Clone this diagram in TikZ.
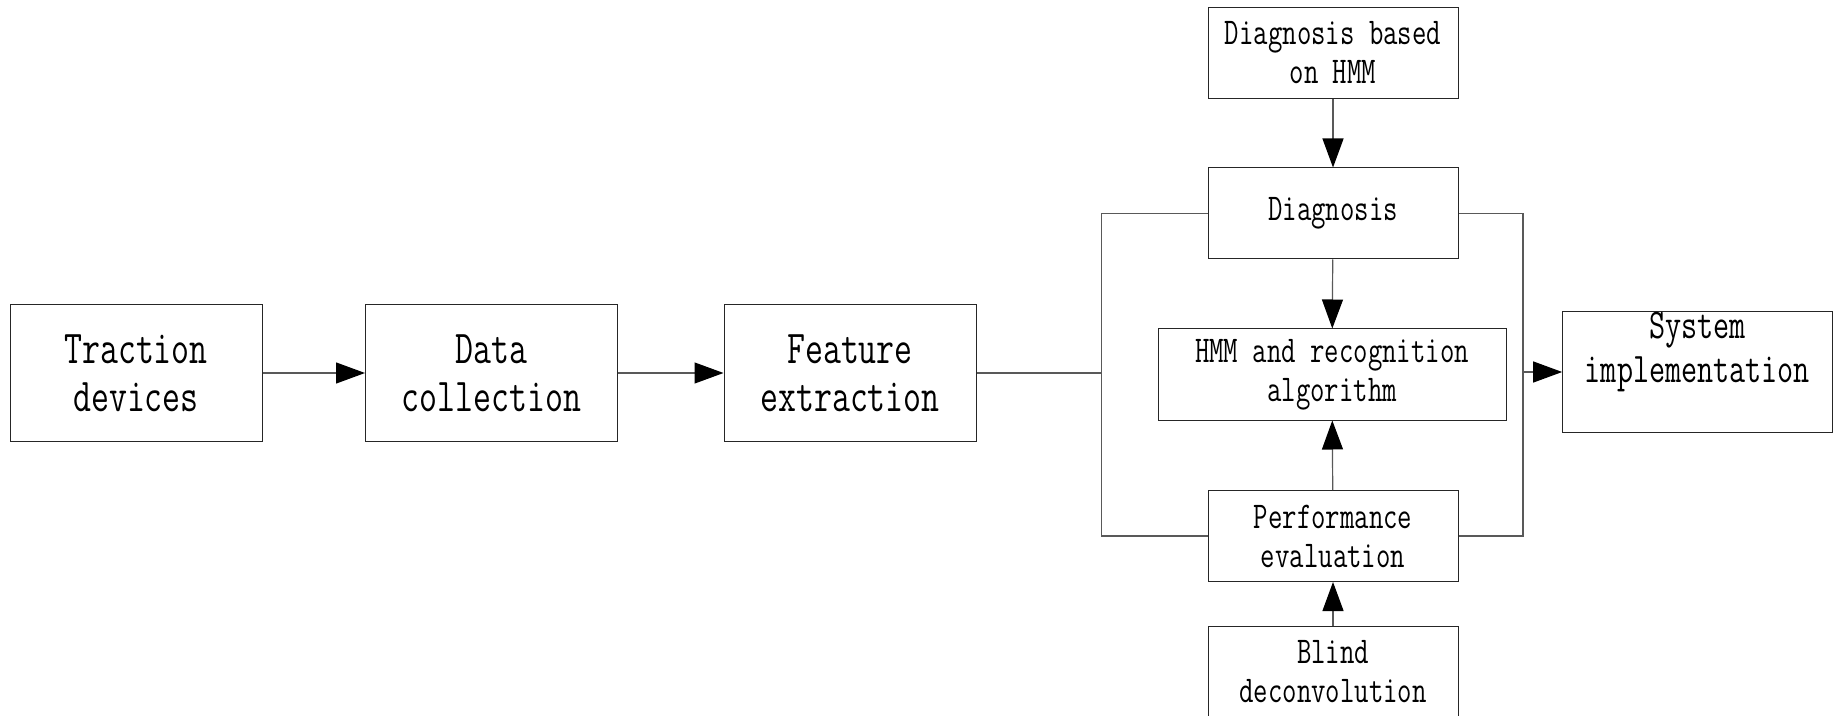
\documentclass[tikz,border=0pt]{standalone}
\usepackage{fontspec}
\newfontfamily\boxfont[FakeStretch=0.74]{Latin Modern Mono}
\usetikzlibrary{arrows.meta}
\definecolor{linegray}{gray}{0.35}

\begin{document}
\begin{tikzpicture}[x=0.5pt,y=-0.5pt,
  blk/.style={draw=black!85, line width=0.5pt, inner sep=0pt, align=center,
    minimum width=125pt, minimum height=45.5pt,
    font=\boxfont\fontsize{18.9}{19.5}\selectfont},
  big/.style={blk, minimum width=126pt, minimum height=68pt,
    font=\boxfont\fontsize{23.55}{24}\selectfont},
  conn/.style={draw=linegray, line width=0.6pt},
  arr/.style={conn, -{Triangle[length=14.5pt,width=10.5pt,color=black]}}]
  \useasboundingbox (0,0) rectangle (1840,716);
  % main chain
  \node[big] (trac) at (136,373) {Traction\\devices};
  \node[big] (coll) at (491.5,373) {Data\\collection};
  \node[big] (feat) at (850,373) {Feature\\extraction};
  % diagnosis column
  \node[blk] (based) at (1333,53) {Diagnosis based\\on HMM};
  \node[blk] (diag) at (1333,213.5) {Diagnosis};
  \node[blk, minimum width=174pt] (hmm) at (1332,374.5) {HMM and recognition\\algorithm};
  \node[blk] (perf) at (1333,536) {Performance\\evaluation};
  \node[blk] (blind) at (1333,672) {Blind\\deconvolution};
  \node[blk, minimum width=134.75pt, minimum height=60.3pt, text depth=24.5pt,
    font=\boxfont\fontsize{21.1}{22.35}\selectfont] (sys) at (1697.4,372) {System\\implementation};
  \coordinate (lbus) at (1101.5,0);
  \coordinate (rbus) at (1523,0);
  % connectors
  \draw[arr] (trac) -- (coll);
  \draw[arr] (coll) -- (feat);
  \draw[conn] (feat.east) -- (feat.east -| lbus);
  \draw[conn] (diag.west) -| (lbus |- perf.west) -- (perf.west);
  \draw[conn] (diag.east) -| (rbus |- perf.east) -- (perf.east);
  \draw[arr] (rbus |- sys.west) -- (sys.west);
  \draw[arr] (based) -- (diag);
  \draw[arr] (diag) -- (hmm);
  \draw[arr] (perf) -- (hmm);
  \draw[arr] (blind) -- (perf);
\end{tikzpicture}
\end{document}
